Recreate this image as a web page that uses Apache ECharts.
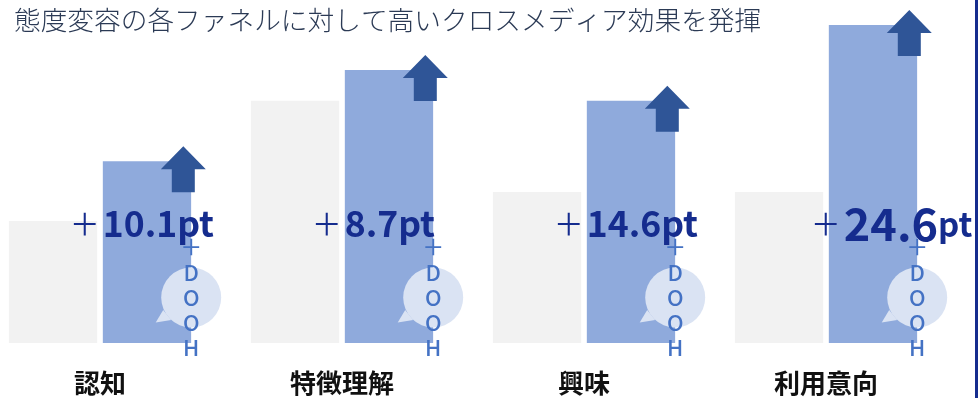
<!DOCTYPE html>
<html><head><meta charset="utf-8">
<style>html,body{margin:0;padding:0;background:#fff}#c{width:978px;height:398px}</style>
<script src="https://cdn.jsdelivr.net/npm/echarts@6/dist/echarts.min.js"></script>
</head><body><div id="c"></div>
<script>
const titleText = '態度変容の各ファネルに対して高いクロスメディア効果を発揮';
const categories = ['認知', '特徴理解', '興味', '利用意向'];
const baseValues = [35.6, 70.6, 44.0, 44.0];
const doohValues = [53.0, 79.6, 70.6, 92.7];
const liftPoints = ['10.1', '8.7', '14.6', '24.6'];
const doohLetters = ['＋', 'D', 'O', 'O', 'H'];
const highlighted = 3;

const JP = '"Noto Sans CJK JP","Noto Sans",sans-serif';
const chart = echarts.init(document.getElementById('c'), null, {renderer: 'canvas'});

function renderOverlay(params, api) {
  const i = api.value(0);
  const top = api.coord([i, api.value(1)]);
  const base = api.coord([i, 0]);
  const cx = top[0] + 47;       // centre of the light-blue bar
  const right = cx + 44.2;
  const left = cx - 44.2;
  const by = base[1];
  const children = [];
  // speech bubble
  children.push({type: 'polygon', shape: {points: [[right - 35.5, by - 20.5], [right - 28, by - 33], [right - 20, by - 23]]}, style: {fill: '#dae3f3'}});
  children.push({type: 'circle', shape: {cx: right, cy: by - 45.5, r: 30}, style: {fill: '#dae3f3'}});
  // arrow
  const ax = cx + 36.3, ay = top[1];
  children.push({type: 'polygon', shape: {points: [
    [ax, ay - 15], [ax + 22.5, ay + 8], [ax + 11.5, ay + 8], [ax + 11.5, ay + 31],
    [ax - 11.5, ay + 31], [ax - 11.5, ay + 8], [ax - 22.5, ay + 8]
  ]}, style: {fill: '#2f5597'}});
  // lift label
  const big = i === highlighted;
  children.push({type: 'text', style: {
    x: left - 33 + (big ? 15 : 0), y: by - 119,
    text: '{plus|＋}{num|' + liftPoints[i] + '}{unit|pt}',
    align: 'left', verticalAlign: 'middle',
    rich: {
      plus: {font: '400 30px ' + JP, fill: '#152c8e', padding: [0, 3, 0, 0]},
      num: {font: (big ? '700 45px ' : '700 35.5px ') + JP, fill: '#152c8e'},
      unit: {font: (big ? '700 33px ' : '700 35.5px ') + JP, fill: '#152c8e'}
    }
  }});
  // vertical DOOH
  doohLetters.forEach(function (ch, k) {
    children.push({type: 'text', style: {
      x: right, y: by - 96 + k * 25.2, text: ch, align: 'center', verticalAlign: 'middle',
      font: '500 22px ' + JP, fill: '#4472c4'
    }});
  });
  return {type: 'group', children: children};
}

chart.setOption({
  animation: false,
  backgroundColor: '#fff',
  title: {text: titleText, left: 9, top: 2, textStyle: {fontFamily: JP, fontSize: 26.7, fontWeight: 300, color: '#2b3a55'}},
  grid: {left: -21, width: 968, top: 0, bottom: 55, containLabel: false, outerBoundsMode: 'none'},
  xAxis: {
    type: 'category', data: categories,
    axisLine: {show: false}, axisTick: {show: false},
    axisLabel: {margin: 27, fontFamily: JP, fontSize: 26, fontWeight: 700, color: '#111'}
  },
  yAxis: {type: 'value', min: 0, max: 100, show: false},
  series: [
    {type: 'bar', data: baseValues, barWidth: 88.3, barGap: '6.4%', itemStyle: {color: '#f2f2f2'}, silent: true},
    {type: 'bar', data: doohValues, barWidth: 88.3, itemStyle: {color: '#8faadc'}, silent: true},
    {type: 'custom', clip: false, silent: true, z: 5,
     data: doohValues.map(function (v, i) { return [i, v]; }),
     encode: {x: 0, y: 1}, renderItem: renderOverlay}
  ],
  graphic: [{type: 'rect', right: 0, top: 0, shape: {width: 3, height: 398}, style: {fill: '#152c8e'}}]
});
</script></body></html>
